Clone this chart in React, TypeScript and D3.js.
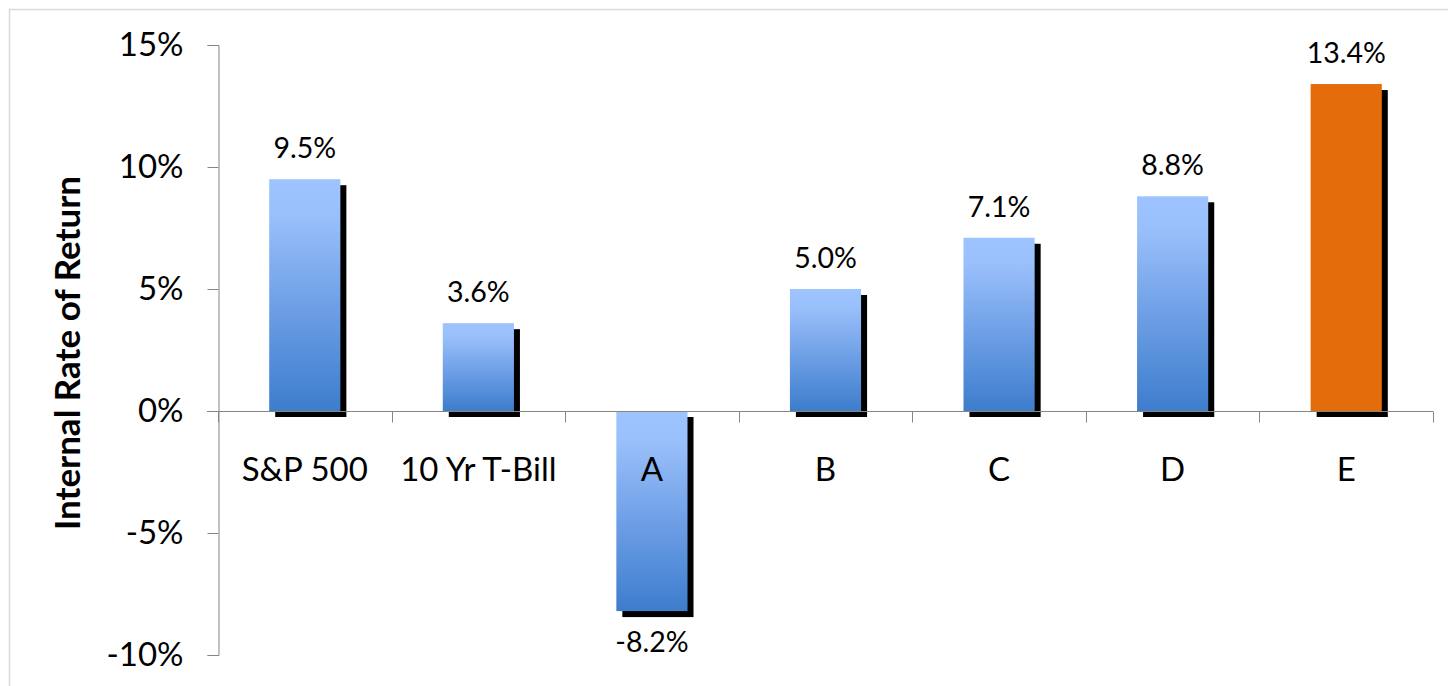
import React, { useRef, useEffect } from 'react';
import * as d3 from 'd3';

const categories = ['S&P 500', '10 Yr T-Bill', 'A', 'B', 'C', 'D', 'E'];
const returns = [9.5, 3.6, -8.2, 5.0, 7.1, 8.8, 13.4];
const highlighted = ['E'];
const yTicks = [-10, -5, 0, 5, 10, 15];

const FONT = 'Lato, "Open Sans", sans-serif';

const App = () => {
  const svgRef = useRef<SVGSVGElement>(null);
  const width = 1448;
  const height = 686;
  const plot = { left: 218, right: 1433, top: 45, bottom: 655 };

  useEffect(() => {
    const svg = d3.select(svgRef.current);
    svg.selectAll('*').remove();

    // Gradient for the normal bars (light top, darker bottom)
    const defs = svg.append('defs');
    const grad = defs
      .append('linearGradient')
      .attr('id', 'barGrad')
      .attr('x1', 0)
      .attr('y1', 0)
      .attr('x2', 0)
      .attr('y2', 1);
    grad.append('stop').attr('offset', '0%').attr('stop-color', '#9ec4ff');
    grad.append('stop').attr('offset', '15%').attr('stop-color', '#9ac0fb');
    grad.append('stop').attr('offset', '55%').attr('stop-color', '#6e9fe6');
    grad.append('stop').attr('offset', '100%').attr('stop-color', '#3d7dcc');

    // outer chart border
    svg
      .append('rect')
      .attr('x', 9.5)
      .attr('y', 9.5)
      .attr('width', width)
      .attr('height', height)
      .attr('fill', 'none')
      .attr('stroke', '#d9d9d9')
      .attr('stroke-width', 1.5);

    const x = d3
      .scaleBand()
      .domain(categories)
      .range([plot.left, plot.right])
      .paddingInner(0.59)
      .paddingOuter(0.295);

    const y = d3.scaleLinear().domain([-10, 15]).range([plot.bottom, plot.top]);

    // Y axis
    const yAxis = d3
      .axisLeft(y)
      .tickValues(yTicks)
      .tickSize(11)
      .tickPadding(24)
      .tickFormat((d) => `${d}%`);

    const yG = svg
      .append('g')
      .attr('transform', `translate(${plot.left + 0.5},0)`)
      .call(yAxis);
    yG.select('.domain').attr('stroke', '#868686');
    yG.selectAll('line').attr('stroke', '#868686');
    yG.selectAll('text')
      .attr('font-family', FONT)
      .attr('font-size', 33)
      .attr('fill', '#000');

    // Shadows and bars
    const bars = categories.map((c, i) => ({ c, v: returns[i] }));
    const shadowOffset = 6;

    svg
      .append('g')
      .selectAll('rect')
      .data(bars)
      .join('rect')
      .attr('x', (d) => x(d.c)! + shadowOffset)
      .attr('y', (d) => Math.min(y(d.v), y(0)) + shadowOffset)
      .attr('width', x.bandwidth())
      .attr('height', (d) => Math.abs(y(d.v) - y(0)))
      .attr('fill', '#000');

    svg
      .append('g')
      .selectAll('rect')
      .data(bars)
      .join('rect')
      .attr('x', (d) => x(d.c)!)
      .attr('y', (d) => Math.min(y(d.v), y(0)))
      .attr('width', x.bandwidth())
      .attr('height', (d) => Math.abs(y(d.v) - y(0)))
      .attr('fill', (d) => (highlighted.includes(d.c) ? '#e46c0a' : 'url(#barGrad)'));

    // X axis line at zero with category boundary ticks
    const y0 = Math.round(y(0)) + 0.5;
    const xG = svg.append('g');
    xG.append('line')
      .attr('x1', plot.left - 11)
      .attr('x2', plot.right)
      .attr('y1', y0)
      .attr('y2', y0)
      .attr('stroke', '#868686');
    d3.range(categories.length + 1).forEach((i) => {
      const bx = Math.round(plot.left + i * x.step()) + 0.5;
      xG.append('line')
        .attr('x1', bx)
        .attr('x2', bx)
        .attr('y1', y0)
        .attr('y2', y0 + 11)
        .attr('stroke', '#868686');
    });

    // category labels
    svg
      .append('g')
      .selectAll('text')
      .data(categories)
      .join('text')
      .attr('x', (d) => x(d)! + x.bandwidth() / 2)
      .attr('y', y(0) + 70)
      .attr('text-anchor', 'middle')
      .attr('font-family', FONT)
      .attr('font-size', 33)
      .attr('fill', '#000')
      .text((d) => d);

    // data labels
    svg
      .append('g')
      .selectAll('text')
      .data(bars)
      .join('text')
      .attr('x', (d) => x(d.c)! + x.bandwidth() / 2)
      .attr('y', (d) => (d.v >= 0 ? y(d.v) - 21 : y(d.v) + 41))
      .attr('text-anchor', 'middle')
      .attr('font-family', FONT)
      .attr('font-size', 28.5)
      .attr('fill', '#000')
      .text((d) => `${d.v.toFixed(1)}%`);

    // y axis title
    svg
      .append('text')
      .attr('transform', `translate(80,${(plot.top + plot.bottom) / 2 + 3}) rotate(-90)`)
      .attr('text-anchor', 'middle')
      .attr('font-family', FONT)
      .attr('font-weight', 'bold')
      .attr('font-size', 35)
      .attr('fill', '#000')
      .text('Internal Rate of Return');
  }, []);

  return (
    <div style={{ position: 'fixed', left: 0, top: 0, width, height, background: '#fff' }}>
      <svg ref={svgRef} width={width} height={height}></svg>
    </div>
  );
};

export default App;
